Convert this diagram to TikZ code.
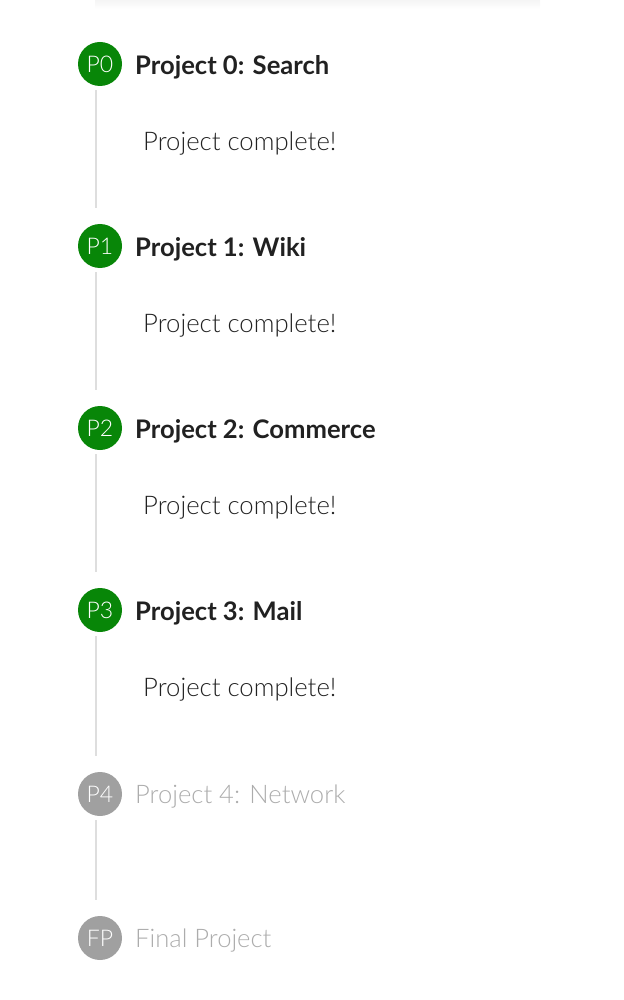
\documentclass[tikz,border=0pt]{standalone}
\usepackage{fontspec}
\setmainfont{Lato}
\newfontfamily\lightfont{Lato Light}
\definecolor{done}{RGB}{8,134,8}
\definecolor{todo}{RGB}{160,160,160}
\definecolor{todotext}{RGB}{172,172,172}
\definecolor{rail}{RGB}{222,222,222}
\definecolor{ink}{RGB}{33,33,33}
\tikzset{
  x=1pt, y=-1pt,
  badge/.style={circle, minimum size=44pt, inner sep=0pt, text=white, font=\lightfont\fontsize{23}{23}\selectfont},
  donebadge/.style={badge, fill=done},
  todobadge/.style={badge, fill=todo},
  title/.style={anchor=west, inner sep=0pt, text=ink, font=\bfseries\fontsize{25.6}{26}\selectfont},
  todotitle/.style={anchor=west, inner sep=0pt, text=todotext, font=\lightfont\fontsize{25.6}{26}\selectfont},
  note/.style={anchor=west, inner sep=0pt, text=ink, font=\lightfont\fontsize{25.7}{26}\selectfont},
  railline/.style={draw=rail, line width=2pt, shorten <=4pt, shorten >=16pt},
}
\begin{document}
\begin{tikzpicture}
\useasboundingbox (0,0) rectangle (623,1000);
\fill[top color=black!4, bottom color=white] (95,0) rectangle (540,9);
\node[donebadge] (p0) at (100,64) {P0};
\node[donebadge] (p1) at (100,246) {P1};
\node[donebadge] (p2) at (100,428) {P2};
\node[donebadge] (p3) at (100,610) {P3};
\node[todobadge] (p4) at (100,794) {P4};
\node[todobadge] (fp) at (100,938) {FP};
\node[title] (t0) at (135,67) {Project 0: Search};
\node[title] (t1) at (135,249) {Project 1: Wiki};
\node[title] (t2) at (135,431) {Project 2: Commerce};
\node[title] (t3) at (135,613) {Project 3: Mail};
\node[todotitle] (t4) at (135,797) {Project 4: Network};
\node[todotitle] (t5) at (135,941) {Final Project};
\node[note] (n0) at (143,144) {Project complete!};
\node[note] (n1) at (143,326) {Project complete!};
\node[note] (n2) at (143,508) {Project complete!};
\node[note] (n3) at (143,690) {Project complete!};
\draw[railline] ([xshift=-4pt]p0.south) -- ([xshift=-4pt]p1.north);
\draw[railline] ([xshift=-4pt]p1.south) -- ([xshift=-4pt]p2.north);
\draw[railline] ([xshift=-4pt]p2.south) -- ([xshift=-4pt]p3.north);
\draw[railline] ([xshift=-4pt]p3.south) -- ([xshift=-4pt]p4.north);
\draw[railline] ([xshift=-4pt]p4.south) -- ([xshift=-4pt]fp.north);
\end{tikzpicture}
\end{document}
